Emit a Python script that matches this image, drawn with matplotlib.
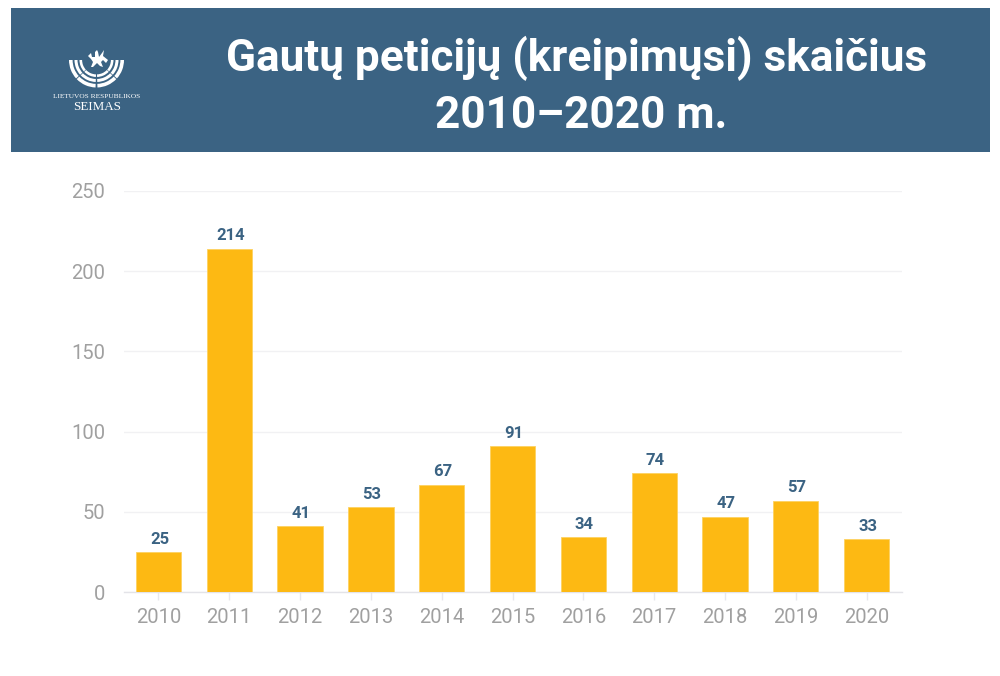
import matplotlib
matplotlib.use("Agg")
import matplotlib.pyplot as plt
from matplotlib.patches import Rectangle, Wedge, Polygon

years = ["2010","2011","2012","2013","2014","2015","2016","2017","2018","2019","2020"]
petitions = [25,214,41,53,67,91,34,74,47,57,33]
yticks = [0,50,100,150,200,250]
title_line1 = "Gautų peticijų (kreipimųsi) skaičius"
title_line2 = "2010–2020 m."

BLUE = "#3B6383"
W, H = 1000, 676
plt.rcParams["font.family"] = ["Roboto", "DejaVu Sans"]
fig = plt.figure(figsize=(W/100, H/100), dpi=100, facecolor="white")

# overlay in pixel coordinates
bg = fig.add_axes([0, 0, 1, 1], zorder=0)
bg.set_xlim(0, W); bg.set_ylim(H, 0); bg.axis("off")
bg.add_patch(Rectangle((11, 8), 979, 144, fc=BLUE, ec="none"))
bg.text(576.5, 71, title_line1, color="white", fontsize=31.8, fontweight="bold",
        ha="center", va="baseline")
bg.text(581, 127.5, title_line2, color="white", fontsize=31.8, fontweight="bold",
        ha="center", va="baseline")

# logo (y axis is inverted, so angles 0-180 open downward on screen)
cx, cy = 96.5, 60
for r, w in [(27.5, 3.6), (22, 3.0), (17, 2.6)]:
    for a1, a2 in [(0, 42), (44, 88), (92, 136), (138, 180)]:
        bg.add_patch(Wedge((cx, cy), r, a1, a2, width=w, fc="white", ec="none"))
bg.add_patch(Polygon([(88, 56), (91, 53), (92, 57), (95, 57), (95, 52), (97, 50), (98, 52),
                      (99, 57), (102, 53), (104, 50), (103, 56), (108, 60), (106, 63),
                      (103, 60), (101, 62), (103, 67), (100, 66), (97, 63), (93, 67), (91, 67),
                      (93, 62), (91, 59)], fc="white", ec="none"))
bg.text(97, 96, "LIETUVOS RESPUBLIKOS", color="white", fontsize=5.35,
        family="Liberation Serif", ha="center", va="center")
bg.text(97, 107, "SEIMAS", color="white", fontsize=9.4,
        family="Liberation Serif", ha="center", va="center")

# chart
ax = fig.add_axes([124/W, 1 - 592/H, (902-124)/W, (592-191)/H], zorder=1)
ax.patch.set_alpha(0)
x = range(len(years))
ax.bar(x, petitions, width=0.64, color="#FDB913", edgecolor="#FDD261", linewidth=0.6, zorder=3)
ax.set_xlim(-0.487, 10.5)
ax.set_ylim(0, 250)
ax.set_yticks(yticks)
ax.set_xticks(list(x), years)
ax.grid(axis="y", color="#F1F1F3", linewidth=1, zorder=0)
ax.set_axisbelow(True)
for s in ["top", "right", "left"]:
    ax.spines[s].set_visible(False)
ax.spines["bottom"].set_color("#E3E3E8")
ax.spines["bottom"].set_linewidth(1)
ax.tick_params(axis="y", length=0, pad=13.5, labelsize=14.5, labelcolor="#A0A0A0")
ax.tick_params(axis="x", length=6, width=1, color="#E8E8EC", pad=5.2, labelsize=14.5, labelcolor="#A0A0A0")
for i, v in zip(x, petitions):
    ax.annotate(str(v), (i + 0.015, v), xytext=(0, 3.8), textcoords="offset points",
                ha="center", va="bottom", color=BLUE, fontsize=12, fontweight="bold")

fig.savefig("out.png", dpi=100, facecolor="white")
